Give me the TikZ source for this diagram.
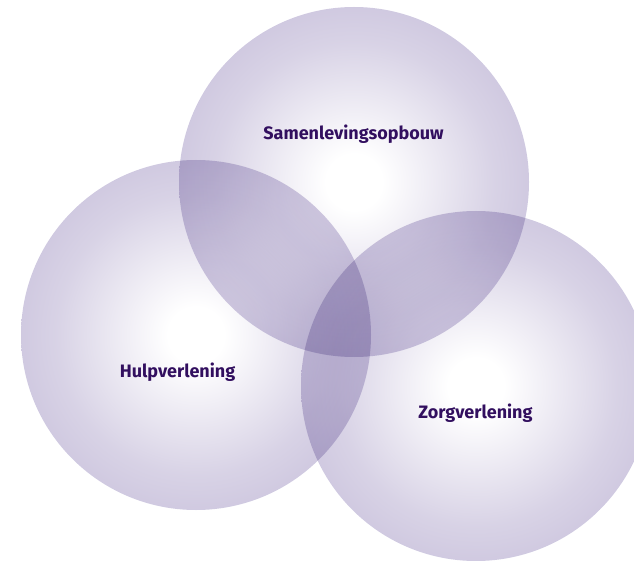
\documentclass[tikz,border=0pt]{standalone}
\usepackage{fontspec}
\setmainfont{Fira Sans}
\usepackage{tikz}
\usetikzlibrary{shapes}
\definecolor{bubbleedge}{RGB}{192,183,214}
\colorlet{bubblemid}{bubbleedge!62!white}
\definecolor{textpurple}{RGB}{50,15,95}
\pgfdeclareradialshading{bubbleshade}{\pgfpoint{0bp}{0bp}}{%
	color(0bp)=(white);
	color(4bp)=(white);
	color(20bp)=(bubblemid);
	color(35.3bp)=(bubbleedge);
	color(50bp)=(bubbleedge)%
}
\tikzset{
	bubble/.style={
		circle,
		minimum size=350pt,
		inner sep=0pt,
		outer sep=0pt,
		shade,
		shading=bubbleshade,
		blend mode=multiply,
	},
	fieldname/.style={
		anchor=base,
		font=\fontsize{18}{20}\selectfont\bfseries,
		text=textpurple,
	},
}

\begin{document}
\begin{tikzpicture}[x=1pt,y=-1pt]
		\useasboundingbox (0,0) rectangle (634,561);
		\clip (0,0) rectangle (634,561);

		\node[bubble] 				(samen) at (354,182) {};
		\node[bubble] 				(hulp) at (196,335) {};
		\node[bubble] 				(zorg) at (476,386) {};

		\node[fieldname] 			(samentext) at (353.5,140) {Samenlevingsopbouw};
		\node[fieldname] 			(hulptext) at (177.5,377) {Hulpverlening};
		\node[fieldname] 			(zorgtext) at (475.5,418) {Zorgverlening};

	\end{tikzpicture}
\end{document}
